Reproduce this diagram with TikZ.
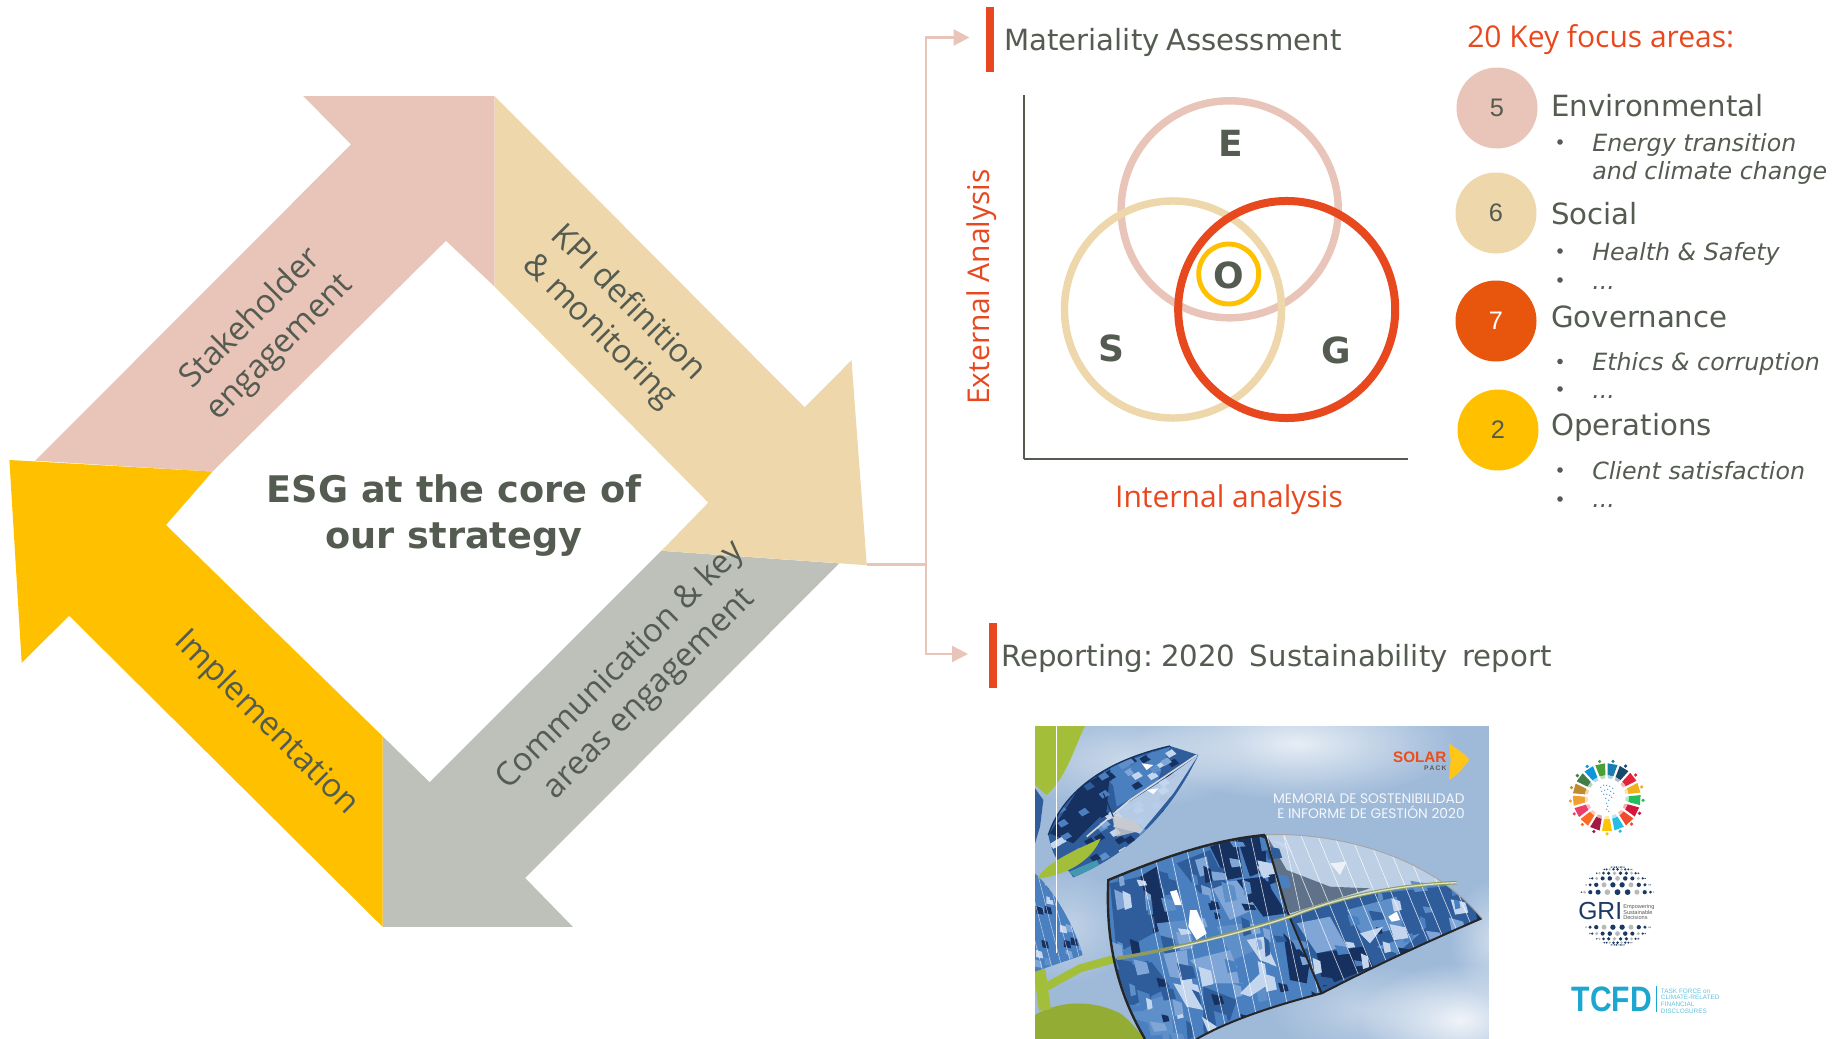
\documentclass[tikz,border=0pt]{standalone}
\usepackage{fontspec}
\usetikzlibrary{arrows.meta,fadings}
\newfontfamily\djv{DejaVu Sans}
\newfontfamily\ops{Open Sans}
\newfontfamily\lib{Liberation Sans}
\newfontfamily\pop{Poppins}
\definecolor{ink}{HTML}{545B50}
\definecolor{epink}{HTML}{E9C4B8}
\definecolor{stan}{HTML}{EDD7AB}
\definecolor{cgray}{HTML}{BEC1B9}
\definecolor{oyel}{HTML}{FFC000}
\definecolor{gred}{HTML}{E8481E}
\definecolor{seven}{HTML}{E8560D}
\definecolor{sky}{HTML}{9FBAD9}
\definecolor{b1}{HTML}{2F5D9B}
\definecolor{b2}{HTML}{4A7FC0}
\definecolor{b3}{HTML}{7FA6D6}
\definecolor{b4}{HTML}{16305F}
\definecolor{b5}{HTML}{C4D6EE}
\definecolor{b6}{HTML}{5E8FC9}
\definecolor{lgreen}{HTML}{A3BF3A}
\definecolor{navy}{HTML}{1B3A63}
\definecolor{teal}{HTML}{1DA6D0}
\tikzfading[name=cloudfade,inner color=transparent!0,outer color=transparent!100]
\tikzset{
  armlabel/.style={text=ink,align=center,font=\ops\fontsize{24.6}{30.5}\selectfont},
  orangetxt/.style={text=gred,inner sep=0pt,font=\ops\fontsize{22.5}{27}\selectfont},
  headtxt/.style={text=ink,anchor=base west,inner sep=0pt,font=\djv\fontsize{21.9}{25}\selectfont},
  subtxt/.style={text=ink,anchor=base west,inner sep=0pt,font=\djv\itshape\fontsize{17.8}{21}\selectfont},
  venn/.style={draw,line width=5.6pt},
  vennlet/.style={text=ink,font=\djv\bfseries\fontsize{27}{32}\selectfont},
  badge/.style={circle,minimum size=60.75pt,inner sep=0pt,font=\lib\fontsize{19}{22}\selectfont},
  dotb/.style={circle,fill=ink,minimum size=4.2pt,inner sep=0pt},
  bar/.style={fill=gred,draw=none,inner sep=0pt},
  conn/.style={draw=epink,line width=2pt},
  tipped/.style={conn,-{Triangle[length=12pt,width=12pt,fill=epink]}},
  axisline/.style={draw=ink},
  cloud/.style={white,path fading=cloudfade}
}
\begin{document}
\begin{tikzpicture}[x=.75pt,y=-.75pt]
\useasboundingbox (0,0) rectangle (1839,1039);
% --- cycle arrows
\fill[epink] (303.4,96.2)--(494.7,96.2)--(494.7,286.7)--(446,240.8)--(212.4,471.6)--(35.2,460.7)--(351,144.4)--cycle;
\fill[cgray] (661.4,550.8)--(839.2,563.4)--(525.2,878)--(572.8,926.8)--(382.6,926.8)--(382.6,736.2)--(429.6,782.2)--cycle;
\fill[oyel] (382.6,736.2)--(382.6,926.8)--(69.2,615.7)--(21.7,662.8)--(9.4,460)--(212.4,471.6)--(166,525)--cycle;
\fill[stan] (494.7,96.2)--(804.6,407.3)--(851.5,360.2)--(866.8,565.2)--(661.4,550.8)--(708.3,502.6)--(494.7,286.7)--cycle;
\node[armlabel,rotate=45] (stk) at (265.5,333.5) {Stakeholder\\engagement};
\node[armlabel,rotate=-45] (kpi) at (613.5,317.5) {KPI definition\\\&\ monitoring};
\node[armlabel,rotate=45] (com) at (635,680) {Communication \&\ key\\areas engagement};
\node[armlabel,rotate=-45] (imp) at (266,723.5) {Implementation};
\node[text=ink,align=center,font=\djv\bfseries\fontsize{27.5}{34.5}\selectfont] (core) at (454,516) {ESG at the core of\\our strategy};
% --- connector
\node[bar,minimum width=6pt,minimum height=48.75pt] (barA) at (990,39.5) {};
\node[bar,minimum width=6pt,minimum height=48.75pt] (barB) at (992.5,655.5) {};
\coordinate (tip) at (866.8,564.5);
\coordinate (trunk) at (926,564.5);
\coordinate (inA) at (969.5,37.5);
\coordinate (inB) at (968,654);
\draw[conn] (tip) -- (trunk);
\draw[tipped] (trunk) |- (inA);
\draw[tipped] (trunk) |- (inB);
\node[headtxt] (mat) at (1004,50) {Materiality\hspace{5pt}Assessment};
\node[headtxt] (rep) at (1001,666) {Reporting:\hspace{6pt}2020\hspace{4pt} Sustainability\hspace{4pt} report};
% --- venn
\coordinate (orig) at (1024,459);
\coordinate (ytop) at (1024,95);
\coordinate (xend) at (1408,459);
\draw[axisline,line width=1.6pt] (orig) -- (ytop);
\draw[axisline,line width=2.2pt] (orig) -- (xend);
\node[venn,draw=epink,circle,minimum size=162.8pt,inner sep=0pt] (E) at (1229.7,209.3) {};
\node[venn,draw=stan,circle,minimum size=162.8pt,inner sep=0pt] (S) at (1173,309.5) {};
\node[venn,draw=gred,circle,minimum size=162.8pt,inner sep=0pt,line width=6pt] (G) at (1286.7,309.5) {};
\node[venn,draw=oyel,circle,minimum size=45pt,inner sep=0pt,line width=3.7pt] (O) at (1228.7,274) {};
\node[vennlet] (eL) at (1231,143) {E};
\node[vennlet] (sL) at (1111.5,348.7) {S};
\node[vennlet] (gL) at (1336,350.7) {G};
\node[vennlet] (oL) at (1229,275.7) {O};
\node[orangetxt,rotate=90,anchor=base] (ext) at (989,287) {External Analysis};
\node[orangetxt,anchor=base] (int) at (1229,507) {Internal analysis};
% --- focus areas
\node[orangetxt,anchor=base west] (key) at (1467,47) {20 Key focus areas:};
\node[badge,fill=epink,text=ink] (b5) at (1497,108) {\raisebox{-1.5pt}{5}};
\node[badge,fill=stan,text=ink] (b6) at (1496,213) {\raisebox{-1pt}{6}};
\node[badge,fill=seven,text=white] (b7) at (1496,321) {7};
\node[badge,fill=oyel,text=ink] (b2) at (1498,430) {\raisebox{-1pt}{2}};
\node[headtxt] (h1) at (1551,116) {Environmental};
\node[headtxt] (h2) at (1551,224) {Social};
\node[headtxt] (h3) at (1551,327) {Governance};
\node[headtxt] (h4) at (1551,435) {Operations};
\node[subtxt] (s1a) at (1592,151) {Energy transition};
\node[subtxt] (s1b) at (1592,179) {and climate change};
\node[subtxt] (s2a) at (1592,260) {Health \&\ Safety};
\node[subtxt] (s2b) at (1592,289) {...};
\node[subtxt] (s3a) at (1592,370) {Ethics \&\ corruption};
\node[subtxt] (s3b) at (1592,398) {...};
\node[subtxt] (s4a) at (1592,479) {Client satisfaction};
\node[subtxt] (s4b) at (1592,507) {...};
\foreach \yy/\nm in {142/p1,251/p2,280/p3,361.5/p4,389/p5,470/p6,499/p7}
  \node[dotb] (\nm) at (1560,\yy) {};
% --- report cover
\begin{scope}[shift={(1030,720)},x=.25pt,y=-.25pt]
 \begin{scope}
 \clip (15,18) rectangle (1377,957);
 \fill[sky] (15,18) rectangle (1377,957);
 \fill[cloud,opacity=.75] (800,70) ellipse (480 and 170);
 \fill[cloud,opacity=.45] (290,120) ellipse (360 and 150);
 \fill[cloud,opacity=.85] (1290,900) ellipse (300 and 170);
 \fill[cloud,opacity=.5] (1390,660) ellipse (130 and 180);
 \fill[cloud,opacity=.35] (1000,870) ellipse (280 and 140);
 \fill[cloud,opacity=.35] (110,620) ellipse (200 and 170);
 % greens
 \fill[lgreen] (15,18)--(165,18) .. controls (130,90) and (110,170) .. (50,225)--(15,195)--cycle;
 \fill[lgreen!90!black] (15,885) .. controls (80,845) and (180,835) .. (270,880) .. controls (300,900) and (320,930) .. (345,957)--(15,957)--cycle;
 \draw[lgreen,line width=9pt] (28,750)--(45,870);
 \draw[lgreen,line width=6pt] (50,800)--(150,745)--(260,715);
 \pgfmathsetseed{11}
 % left leaves
 \fill[b1] (15,205)--(40,240)--(30,320)--(15,370)--cycle;
 \begin{scope}
  \clip (15,460) .. controls (70,510) and (130,610) .. (158,705) -- (15,755) -- cycle;
  \fill[b2] (15,450) rectangle (165,760);
  \foreach \n in {1,...,45}{
    \pgfmathsetmacro{\rx}{15+rnd*145}
    \pgfmathsetmacro{\ry}{460+rnd*295}
    \pgfmathtruncatemacro{\ci}{int(rnd*6)+1}
    \fill[b\ci] (\rx,\ry) -- ++(18,6) -- ++(4,20) -- ++(-22,-4) -- cycle;
  }
  \foreach \xx in {-40,-10,...,110} \draw[white,opacity=.6,line width=.4pt] (\xx,450)--(\xx+80,760);
 \end{scope}
 % upper small leaf
 \begin{scope}
  \clip (55,345) .. controls (90,240) and (190,130) .. (420,78) -- (505,105) .. controls (450,220) and (350,380) .. (130,472) -- (118,455) .. controls (90,430) and (70,420) .. (55,345) -- cycle;
  \fill[b1] (40,60) rectangle (520,480);
  \fill[b4] (60,340)--(150,200)--(240,150)--(230,270)--(130,370)--cycle;
  \fill[b2] (240,140)--(420,80)--(380,190)--(260,260)--cycle;
  \foreach \n in {1,...,110}{
    \pgfmathsetmacro{\rx}{55+rnd*450}
    \pgfmathsetmacro{\ry}{78+rnd*395}
    \pgfmathtruncatemacro{\ci}{int(rnd*6)+1}
    \fill[b\ci] (\rx,\ry) -- ++(20,-12) -- ++(14,14) -- ++(-22,12) -- cycle;
  }
  \fill[b5,opacity=.9] (260,270)--(400,180)--(505,105)--(430,220)--(330,340)--(250,320)--cycle;
  \fill[white!60!gray,opacity=.8] (245,285)--(310,300)--(340,330)--(260,350)--cycle;
  \fill[white] (335,130)--(370,135)--(350,150)--cycle;
  \fill[white] (350,210)--(385,205)--(370,222)--cycle;
  \fill[teal!60!gray] (118,455)--(200,420)--(210,440)--(135,472)--cycle;
  \draw[white!70!gray,line width=1.2pt] (170,350)--(300,240)--(500,105);
  \draw[b4,line width=.8pt] (220,220)--(250,290);
 \end{scope}
 \draw[b4,line width=1pt] (55,345) .. controls (90,240) and (190,130) .. (420,78);
 \fill[lgreen] (25,470) .. controls (60,420) and (150,385) .. (212,355) .. controls (190,410) and (130,460) .. (30,475) -- cycle;
 % main leaf
 \def\bigleaf{(235,480) .. controls (380,420) and (540,360) .. (705,345) .. controls (860,335) and (1180,380) .. (1355,595) .. controls (1180,670) and (1030,740) .. (875,820) .. controls (720,860) and (590,905) .. (500,957) -- (345,957) .. controls (270,830) and (225,680) .. (235,480) -- cycle}
 \begin{scope}
  \clip \bigleaf;
  \fill[b2] (220,330) rectangle (1370,960);
  % upper right pane
  \fill[white!30!sky] (700,330)--(1370,330)--(1370,500)--(1280,488)--(1000,520)--(780,590)--cycle;
  \fill[gray!60!b1] (712,350)--(770,450)--(900,500)--(1020,505)--(780,580)--(735,490)--cycle;
  \fill[b1] (780,590)--(1000,525)--(1280,495)--(1370,590)--(1100,720)--(875,830)--cycle;
  % crystal facets
  \foreach \c/\p in {
   b4/{(330,470)--(380,440)--(420,620)--(370,640)},
   b4/{(540,380)--(620,350)--(640,470)--(590,480)},
   b4/{(620,350)--(705,345)--(710,450)--(660,470)},
   b1/{(240,490)--(330,470)--(370,640)--(260,700)},
   b6/{(380,610)--(470,600)--(490,660)--(400,680)},
   b3/{(540,490)--(640,480)--(690,560)--(600,600)},
   b1/{(440,430)--(540,390)--(590,490)--(510,520)},
   b3/{(495,420)--(530,410)--(540,460)--(510,470)},
   b6/{(560,620)--(650,610)--(700,680)--(610,720)},
   b5/{(650,660)--(700,650)--(740,740)--(690,720)},
   b1/{(260,750)--(360,720)--(420,800)--(300,860)},
   b6/{(300,860)--(420,820)--(430,940)--(340,950)},
   b3/{(480,720)--(600,690)--(640,790)--(540,790)},
   b1/{(520,800)--(620,840)--(600,900)--(520,930)},
   b3/{(800,610)--(900,590)--(950,680)--(860,700)},
   b4/{(860,700)--(1000,680)--(1030,740)--(880,800)},
   b6/{(950,570)--(1100,530)--(1120,620)--(1000,650)},
   b1/{(1130,540)--(1300,520)--(1340,590)--(1150,650)},
   b4/{(620,480)--(700,470)--(770,580)--(700,590)},
   b3/{(400,700)--(470,690)--(480,780)--(420,770)},
   b4/{(760,640)--(840,720)--(830,790)--(780,780)},
   b6/{(1040,680)--(1170,640)--(1100,700)}
  }{ \fill[\c] \p -- cycle; }
  % small facets
  \foreach \n in {1,...,190}{
    \pgfmathsetmacro{\rx}{235+rnd*1120}
    \pgfmathsetmacro{\ry}{345+rnd*615}
    \pgfmathsetmacro{\lim}{\rx<740 ? 0 : 610-(\rx-780)*.36}
    \pgfmathtruncatemacro{\ci}{int(rnd*6)+1}
    \pgfmathsetmacro{\ws}{14+rnd*34}
    \pgfmathsetmacro{\hs}{12+rnd*30}
    \pgfmathtruncatemacro{\okk}{\ry>\lim ? 1 : 0}
    \ifnum\okk=1
      \fill[b\ci] (\rx,\ry) -- ++(\ws,\hs*.3) -- ++(\ws*.2,\hs) -- ++(-\ws*.9,\hs*.2) -- cycle;
    \fi
  }
  \foreach \c/\p in {
   white/{(480,570)--(500,570)--(530,640)--(500,660)--(475,620)},
   white/{(420,515)--(440,510)--(455,555)--(435,555)},
   b5/{(430,790)--(480,800)--(520,870)--(470,860)},
   b5/{(630,820)--(700,750)--(720,790)--(660,830)},
   b5/{(515,890)--(560,920)--(540,950)},
   b5/{(680,435)--(720,470)--(700,475)},
   b5/{(990,640)--(1060,620)--(1020,670)},
   white/{(1075,590)--(1100,575)--(1110,600)--(1085,605)},
   white!80!sky/{(900,430)--(950,425)--(930,465)},
   b5/{(720,360)--(770,370)--(790,400)}
  }{ \fill[\c] \p -- cycle; }
  \foreach \xx in {310,360,...,760} \draw[white,opacity=.75,line width=.5pt] (\xx,340)--(\xx+135,960);
  \foreach \xx in {760,810,...,1310} \draw[white,opacity=.75,line width=.5pt] (\xx,340)--(\xx+215,860);
 \end{scope}
 \draw[black!85,line width=1.8pt] (705,345) .. controls (540,360) and (380,420) .. (235,480) .. controls (225,680) and (270,830) .. (345,957);
 \draw[black!85,line width=1.5pt] (500,957) .. controls (590,905) and (720,860) .. (875,820) .. controls (1030,740) and (1180,670) .. (1355,595);
 \draw[gray!70,line width=.7pt] (705,345) .. controls (860,335) and (1180,380) .. (1355,595);
 \draw[black!85,line width=1.5pt] (705,345) -- (770,570) -- (875,820);
 \draw[line width=2.6pt,color=gray!55!lgreen] (260,715) .. controls (420,690) and (620,640) .. (780,590) .. controls (930,530) and (1100,495) .. (1280,488);
 \draw[line width=1pt,color=white,opacity=.7] (430,685) .. controls (560,655) and (660,630) .. (780,590) .. controls (930,530) and (1100,495) .. (1280,488);
 \draw[white,line width=1pt] (80,18)--(80,700);
 % cover logo and title
 \fill[oyel!90!white] (1257,70) .. controls (1275,85) and (1300,95) .. (1318,120) .. controls (1300,140) and (1285,165) .. (1257,180) -- (1262,120) -- cycle;
 \node[anchor=base east,text=gred!90!orange,font=\lib\bfseries\fontsize{11.4}{12}\selectfont,inner sep=0pt] (sol) at (1250,128) {SOLAR};
 \node[anchor=base east,text=gray!70!black,font=\lib\bfseries\fontsize{5}{6}\selectfont,inner sep=0pt] (pck) at (1250,150) {P\,A\,C\,K};
 \node[anchor=base east,text=white!88!sky,font=\pop\fontsize{10.35}{11}\selectfont,inner sep=0pt] (t1) at (1305,249) {MEMORIA DE SOSTENIBILIDAD};
 \node[anchor=base east,text=white!88!sky,font=\pop\fontsize{10.35}{11}\selectfont,inner sep=0pt] (t2) at (1305,294) {E INFORME DE GESTIÓN 2020};
 \end{scope}
\end{scope}
% --- SDG wheel
\begin{scope}[shift={(1606.7,797.3)},x=.75pt,y=.75pt]
 \foreach \c [count=\i] in {1A7FB0,19486A,E5243B,F0B020,26BD5D,D3163A,F04B2A,26BDE2,FCC30B,A21942,FD6925,EB3F6B,F0A030,BF8B2E,3F7E44,0A97D9,4C9F38}{
   \pgfmathsetmacro{\aa}{80-(\i-1)*21.18}
   \definecolor{wedgec}{HTML}{\c}
   \fill[wedgec] (\aa-7.5:22) -- (\aa-8.5:34) -- (\aa+8.5:34) -- (\aa+7.5:22) -- cycle;
   \fill[wedgec!35] (\aa-6:19) -- (\aa-7:22) -- (\aa+7:22) -- (\aa+6:19) -- cycle;
   \fill[wedgec] (\aa:36.5) circle (1.8);
 }
 \foreach \xx/\yy in {-6/10,-3/12,0/12,3/11,6/9,-5/6,-2/7,1/8,4/6,7/4,-3/3,0/3,3/2,5/0,-1/-1,2/-3,0/-6,1/-9,0/-12,2/-14}
   \fill[teal!70!b1] (\xx,\yy) circle (.6);
\end{scope}
% --- GRI
\begin{scope}[shift={(1617.5,905.5)},x=.75pt,y=.75pt]
 \foreach \lat/\off [count=\r] in {20/0,32/8,44/0,56/8,68/0,80/8}{
   \foreach \lon [count=\k] in {-80,-64,...,80}{
     \pgfmathsetmacro{\px}{39*cos(\lat)*sin(\lon+\off)}
     \pgfmathsetmacro{\py}{39*sin(\lat)}
     \pgfmathsetmacro{\dr}{2.7*cos(\lon+\off)*cos(\lat)+.4}
     \pgfmathtruncatemacro{\m}{mod(\k+\r,3)}
     \ifnum\m=0 \def\dc{gray!55}\else\def\dc{navy}\fi
     \fill[\dc] (\px,\py) circle (\dr);
     \ifnum\r>1 \fill[\dc] (\px,-\py-1) circle (\dr);\fi
   }
 }
\end{scope}
\node[anchor=base west,text=navy,inner sep=0pt,font=\lib\fontsize{18.5}{20}\selectfont] (gri) at (1578,919) {GRI};
\node[anchor=west,text=ink,inner sep=0pt,align=left,font=\lib\fontsize{4.2}{4.1}\selectfont] (griT) at (1623,912) {Empowering\\Sustainable\\Decisions};
% --- TCFD
\node[anchor=base west,text=teal,inner sep=0pt,font=\lib\bfseries\fontsize{26.5}{28}\selectfont] (tcfd) at (1571.5,1011.7) {\scalebox{.85}[1]{TCFD}};
\coordinate (tcA) at (1656.7,985.5);
\coordinate (tcB) at (1656.7,1012);
\draw[teal,line width=.7pt] (tcA) -- (tcB);
\node[anchor=west,text=teal!70,inner sep=0pt,align=left,font=\lib\fontsize{4.8}{4.9}\selectfont] (tcT) at (1660.7,1001) {TASK FORCE on\\CLIMATE-RELATED\\FINANCIAL\\DISCLOSURES};
\end{tikzpicture}
\end{document}
